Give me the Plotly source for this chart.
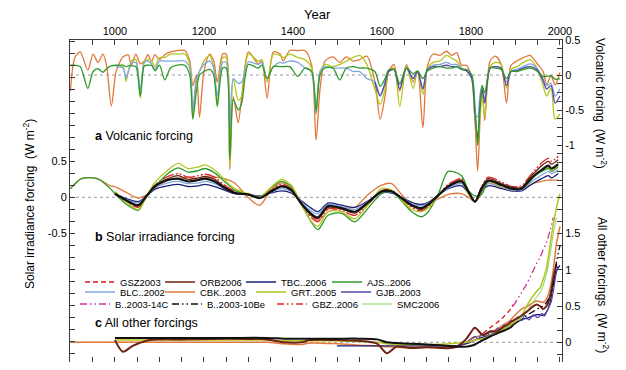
import plotly.graph_objects as go

# ---------------- axis tick labels ----------------
X_MAJOR = [1000, 1200, 1400, 1600, 1800, 2000]
X_MINOR = [900, 950, 1050, 1100, 1150, 1250, 1300, 1350, 1450, 1500, 1550,
           1650, 1700, 1750, 1850, 1900, 1950]
SOLAR_TICKS = [0.5, 0.0, -0.5]
SOLAR_TICK_TEXT = ["0.5", "0", "-0.5"]
VOLC_TICKS = [0.5, 0.0, -0.5, -1.0]
VOLC_TICK_TEXT = ["0.5", "0", "-0.5", "-1"]
OTHER_TICKS = [0.0, 0.5, 1.0, 1.5]
OTHER_TICK_TEXT = ["0", "0.5", "1", "1.5"]

# ---------------- (a) volcanic forcing ----------------
VOLC_YEARS = [900, 910, 922, 939, 951, 962, 973, 981, 992, 1003,
              1018, 1025, 1030, 1037, 1047, 1057, 1066, 1074, 1082, 1090,
              1100, 1112, 1125, 1140, 1157, 1168, 1175, 1183, 1190, 1200,
              1213, 1222, 1230, 1242, 1250, 1258, 1266, 1277, 1285, 1300,
              1322, 1330, 1342, 1356, 1371, 1378, 1393, 1411, 1427, 1442,
              1452, 1461, 1472, 1490, 1505, 1520, 1535, 1550, 1566, 1584,
              1596, 1607, 1615, 1627, 1640, 1655, 1670, 1680, 1692, 1702,
              1715, 1730, 1745, 1757, 1768, 1779, 1790, 1802, 1809, 1815,
              1820, 1825, 1831, 1843, 1855, 1868, 1880, 1890, 1903, 1918,
              1933, 1948, 1962, 1970, 1980, 1989, 2000]
VOLC_CBK = [-0.23, 0.25, 0.33, 0.07, 0.30, 0.18, 0.30, 0.14, -0.44, 0.06,
            0.26, 0.28, 0.29, 0.14, 0.30, 0.16, 0.20, 0.29, 0.19, 0.29,
            0.22, 0.29, 0.33, 0.35, 0.35, 0.20, -0.15, 0.00, -0.60, 0.05,
            0.30, 0.20, -0.10, 0.30, 0.30, -1.35, -0.31, -0.68, -0.30, 0.33,
            0.16, 0.20, -0.33, 0.33, 0.30, 0.20, 0.35, 0.35, 0.35, 0.14,
            -0.93, -0.19, 0.20, 0.26, 0.18, 0.26, 0.20, 0.22, 0.27, -0.09,
            -0.63, -0.30, 0.05, 0.15, -0.23, 0.15, -0.10, 0.05, -0.75, 0.12,
            0.30, 0.28, 0.34, 0.28, 0.32, 0.14, 0.14, -0.06, -0.65, -1.37,
            -0.70, -0.15, -0.65, 0.20, 0.27, 0.15, -0.40, 0.14, 0.20, 0.25,
            0.28, 0.17, 0.05, -0.14, -0.01, -0.14, 0.04]
VOLC_GRT = [None, None, None, None, None, None, None, None, None, 0.13,
            0.12, -0.09, 0.05, 0.20, 0.22, -0.33, 0.20, 0.22, 0.20, 0.12,
            0.25, 0.25, 0.30, 0.30, 0.30, 0.15, -0.60, -0.10, 0.05, 0.20,
            0.28, 0.10, -0.40, 0.25, 0.25, -1.30, -0.05, -0.36, -0.30, 0.30,
            0.20, 0.22, -0.10, 0.30, 0.28, 0.25, 0.30, 0.25, 0.22, 0.10,
            -0.56, 0.05, 0.15, 0.12, 0.15, 0.20, 0.25, 0.28, 0.15, -0.20,
            -0.42, -0.20, 0.05, 0.10, -0.45, 0.13, -0.19, 0.05, -0.28, 0.10,
            0.18, 0.20, 0.28, 0.24, 0.20, 0.10, 0.06, -0.05, -0.60, -1.00,
            -0.60, -0.25, -0.59, 0.12, 0.18, 0.15, -0.19, 0.08, 0.12, 0.18,
            0.22, 0.10, -0.15, -0.30, -0.19, -0.63, -0.56]
VOLC_BLC = [None, None, None, None, None, None, None, None, None, 0.12,
            0.10, -0.05, 0.05, 0.17, 0.18, -0.22, 0.18, 0.20, 0.16, 0.08,
            0.20, 0.20, 0.20, 0.20, 0.20, 0.10, -0.50, -0.05, 0.05, 0.15,
            0.20, 0.10, -0.30, 0.18, 0.18, -0.80, -0.05, -0.12, -0.10, 0.19,
            0.15, 0.18, -0.05, 0.12, 0.18, 0.17, 0.20, 0.18, 0.10, 0.05,
            -0.55, 0.05, 0.12, 0.10, 0.10, 0.10, 0.05, 0.05, -0.05, -0.10,
            -0.28, -0.10, 0.05, 0.08, -0.14, 0.10, -0.05, 0.05, -0.18, 0.08,
            0.14, 0.15, 0.18, 0.15, 0.15, 0.10, 0.06, -0.05, -0.55, -0.60,
            -0.30, -0.15, -0.35, 0.10, 0.12, 0.10, -0.10, 0.05, 0.08, 0.12,
            0.16, 0.10, -0.05, -0.15, -0.12, -0.30, -0.20]
VOLC_AJS = [0.14, 0.14, 0.12, -0.19, 0.05, 0.09, 0.04, 0.09, 0.13, 0.14,
            0.14, 0.12, 0.13, 0.13, 0.12, -0.30, 0.13, 0.14, 0.14, 0.06,
            0.14, -0.07, 0.10, 0.14, 0.14, 0.00, -0.63, -0.23, 0.00, 0.05,
            0.08, 0.00, -0.45, 0.10, 0.10, -1.20, -0.35, -0.50, -0.40, 0.15,
            0.10, 0.14, -0.05, 0.12, 0.12, 0.12, 0.12, -0.02, 0.10, 0.05,
            -0.51, 0.00, 0.10, 0.10, -0.07, 0.10, 0.12, 0.10, 0.10, 0.05,
            -0.16, -0.05, 0.07, 0.08, -0.12, 0.10, 0.02, 0.06, -0.05, 0.06,
            0.10, 0.12, 0.10, 0.10, 0.12, 0.08, 0.08, 0.00, -0.45, -1.00,
            -0.50, -0.15, -0.25, 0.10, 0.10, 0.08, -0.05, 0.05, 0.05, 0.08,
            0.10, 0.06, -0.02, -0.02, -0.01, -0.06, -0.05]
VOLC_GJB = [None] * 59 + [
            -0.10,
            -0.30, -0.12, 0.05, 0.08, -0.20, 0.10, -0.05, 0.05, -0.20, 0.08,
            0.12, 0.12, 0.14, 0.12, 0.12, 0.08, 0.06, -0.05, -0.55, -0.90,
            -0.45, -0.20, -0.40, 0.10, 0.12, 0.10, -0.15, 0.05, 0.06, 0.10,
            0.12, 0.08, -0.08, -0.20, -0.15, -0.40, -0.30]

# ---------------- (b) solar irradiance forcing ----------------
SOLAR_YEARS = [900, 925, 960, 990, 1000, 1022, 1052, 1070, 1089, 1119,
               1142, 1164, 1187, 1202, 1224, 1246, 1269, 1299, 1325, 1351,
               1374, 1396, 1419, 1441, 1456, 1479, 1509, 1539, 1569, 1599,
               1622, 1644, 1667, 1689, 1704, 1727, 1749, 1779, 1794, 1809,
               1824, 1839, 1869, 1891, 1914, 1929, 1944, 1959, 1974, 1981,
               1996]
SOLAR_B10BE = [None, None, None, None, 0.05, -0.03, -0.11, 0.01, 0.15, 0.24,
               0.26, 0.22, 0.24, 0.26, 0.22, 0.13, 0.06, 0.04, -0.01, 0.08,
               0.15, 0.10, -0.09, -0.23, -0.28, -0.12, -0.15, -0.20, -0.07, 0.08,
               0.08, -0.01, -0.11, -0.15, -0.10, 0.03, 0.15, 0.22, 0.08, -0.06,
               0.12, 0.23, 0.17, 0.12, 0.12, 0.22, 0.31, 0.38, 0.44, 0.40,
               0.46]
SOLAR_GRT = [None, None, None, None, 0.08, -0.05, -0.17, 0.00, 0.20, 0.38,
             0.47, 0.40, 0.42, 0.45, 0.38, 0.25, 0.12, 0.05, 0.00, 0.14,
             0.25, 0.17, -0.10, -0.33, -0.40, -0.20, -0.20, -0.30, -0.10, 0.12,
             0.10, -0.03, -0.17, -0.20, -0.15, 0.02, 0.15, 0.22, 0.05, -0.06,
             0.10, 0.22, 0.15, 0.12, 0.12, 0.22, 0.30, 0.38, 0.42, 0.38,
             0.44]
SOLAR_AJS = [0.12, 0.26, 0.26, 0.12, 0.05, -0.08, -0.18, 0.00, 0.14, 0.33,
             0.41, 0.35, 0.37, 0.40, 0.34, 0.22, 0.10, 0.04, 0.00, 0.13,
             0.22, 0.15, -0.10, -0.34, -0.45, -0.25, -0.22, -0.34, -0.15, 0.05,
             0.08, -0.05, -0.20, -0.27, -0.20, 0.05, 0.36, 0.30, 0.10, 0.02,
             0.04, 0.23, 0.18, 0.12, 0.12, 0.20, 0.30, 0.36, 0.40, 0.36,
             0.42]
SOLAR_GBZ = [None, None, None, None, 0.07, -0.04, -0.14, 0.00, 0.17, 0.29,
             0.33, 0.28, 0.30, 0.32, 0.28, 0.17, 0.08, 0.04, 0.00, 0.10,
             0.18, 0.12, -0.10, -0.28, -0.34, -0.16, -0.18, -0.25, -0.10, 0.09,
             0.10, -0.02, -0.14, -0.19, -0.13, 0.03, 0.18, 0.26, 0.10, -0.06,
             0.15, 0.28, 0.21, 0.15, 0.16, 0.27, 0.38, 0.48, 0.54, 0.50,
             0.57]
SOLAR_ORB = [None, None, None, None, 0.06, -0.03, -0.12, 0.00, 0.16, 0.26,
             0.30, 0.25, 0.27, 0.29, 0.25, 0.15, 0.07, 0.04, 0.00, 0.09,
             0.16, 0.11, -0.09, -0.25, -0.30, -0.14, -0.16, -0.22, -0.08, 0.08,
             0.09, -0.01, -0.12, -0.17, -0.11, 0.03, 0.16, 0.24, 0.09, -0.06,
             0.14, 0.26, 0.19, 0.14, 0.14, 0.25, 0.35, 0.44, 0.50, 0.46,
             0.52]
SOLAR_BLC = [None, None, None, None, 0.05, -0.02, -0.08, 0.01, 0.13, 0.20,
             0.22, 0.19, 0.20, 0.22, 0.19, 0.12, 0.06, 0.04, 0.01, 0.07,
             0.12, 0.08, -0.07, -0.19, -0.23, -0.10, -0.13, -0.17, -0.06, 0.07,
             0.07, 0.00, -0.09, -0.12, -0.08, 0.03, 0.13, 0.19, 0.07, -0.06,
             0.10, 0.19, 0.14, 0.10, 0.10, 0.18, 0.25, 0.31, 0.36, 0.33,
             0.38]
SOLAR_TBC = [None, None, None, None, 0.05, -0.01, -0.06, 0.01, 0.11, 0.16,
             0.18, 0.15, 0.16, 0.18, 0.15, 0.10, 0.05, 0.04, 0.02, 0.06,
             0.09, 0.06, -0.05, -0.15, -0.20, -0.08, -0.11, -0.14, -0.05, 0.06,
             0.06, 0.00, -0.07, -0.10, -0.07, 0.03, 0.12, 0.16, 0.06, -0.06,
             0.09, 0.16, 0.12, 0.09, 0.09, 0.15, 0.21, 0.26, 0.30, 0.27,
             0.33]
SOLAR_CBK = [0.12, 0.26, 0.26, 0.16, 0.15, 0.08, -0.01, 0.03, 0.12, 0.24,
             0.26, 0.28, 0.25, 0.27, 0.28, 0.26, 0.20, 0.00, -0.11, 0.10,
             0.20, 0.12, -0.08, -0.25, -0.33, -0.20, -0.15, -0.14, 0.04, 0.17,
             0.19, 0.04, -0.10, -0.10, -0.09, -0.02, 0.04, 0.05, 0.00, -0.06,
             0.05, 0.20, 0.13, 0.09, 0.10, 0.16, 0.20, 0.22, 0.24, 0.24,
             0.24]

# ---------------- (c) all other forcings ----------------
OTHER_YEARS = [900, 1000, 1018, 1040, 1079, 1150, 1250, 1341, 1381, 1420,
               1438, 1499, 1550, 1589, 1611, 1633, 1663, 1700, 1753, 1768,
               1790, 1798, 1809, 1827, 1843, 1858, 1870, 1888, 1895, 1917,
               1925, 1947, 1955, 1962, 1970, 1978, 1985, 1992, 2000]
OTHER_CBK = [0.00, 0.00, 0.00, 0.00, 0.00, 0.00, 0.00, 0.00, -0.02, -0.03,
             -0.01, -0.02, -0.04, -0.05, -0.06, -0.07, -0.07, -0.07, -0.06, -0.05,
             0.00, 0.03, 0.07, 0.10, 0.14, 0.18, 0.23, 0.30, 0.35, 0.47,
             0.49, 0.57, 0.56, 0.55, 0.60, 0.75, 1.00, 1.35, 1.60]
OTHER_ORB = [None, 0.03, -0.13, -0.05, 0.03, 0.04, 0.05, 0.04, 0.00, 0.00,
             0.03, 0.03, 0.02, -0.02, -0.15, -0.06, -0.08, -0.07, -0.08, -0.06,
             0.05, 0.12, 0.20, 0.10, 0.15, 0.15, 0.20, 0.27, 0.30, 0.38,
             0.42, 0.52, 0.50, 0.46, 0.50, 0.64, 0.88, 1.08, None]
OTHER_B10BE = [None, 0.06, 0.06, 0.06, 0.06, 0.06, 0.06, 0.06, 0.05, 0.05,
               0.05, 0.05, 0.05, 0.04, 0.00, -0.01, -0.02, -0.03, -0.05, -0.06,
               -0.06, -0.05, -0.03, 0.03, 0.08, 0.12, 0.15, 0.20, 0.24, None,
               None, None, None, None, None, None, None, None, None]
OTHER_B10BE_LATE = [None] * 28 + [0.24, 0.33, 0.37, 0.45, 0.48, 0.50, 0.55,
                                  0.65, 0.80, 1.10, 1.33]
OTHER_B14C = [None] * 28 + [0.50, 0.72, 0.80, 1.08, 1.17, 1.27, 1.38,
                            1.55, 1.72, None, None]
OTHER_GSZ = [None] * 23 + [0.12, 0.20, 0.27, 0.33, 0.45, 0.52] + [None] * 10
OTHER_GRT = [None, 0.03, 0.03, 0.03, 0.03, 0.03, 0.03, 0.03, 0.02, 0.02,
             0.02, 0.02, 0.01, 0.00, -0.02, -0.03, -0.03, -0.03, -0.02, -0.01,
             0.00, 0.01, 0.03, 0.05, 0.09, 0.13, 0.17, 0.24, 0.26, 0.40,
             0.50, 0.70, 0.75, 0.86, 1.03, 1.35, 1.63, 1.85, 2.05]
OTHER_SMC = [None] * 23 + [0.04, 0.08, 0.12, 0.15, 0.21, 0.23, 0.36,
                           0.42, 0.62, 0.68, 0.78, 0.95, 1.22, 1.50, 1.72, None]
OTHER_TBC = [None] * 11 + [-0.05, -0.05, -0.05, -0.05, -0.05, -0.05, -0.05, -0.05, -0.05,
                           -0.02, 0.00, 0.03, 0.07, 0.10, 0.14, 0.17, 0.24, 0.26, 0.32,
                           0.33, 0.38, 0.38, 0.37, 0.42, 0.55, 0.80, 0.98, 1.06]
GJB_OTHER_YEARS = [1780, 1790, 1800, 1810, 1815, 1825, 1835, 1845, 1850, 1860,
                   1865, 1875, 1880, 1890, 1900, 1905, 1915, 1920, 1930, 1940,
                   1950, 1960, 1965, 1970, 1980, 1985, 1990, 1995]
OTHER_GJB = [-0.03, 0.00, 0.05, 0.08, 0.04, 0.12, 0.08, 0.16, 0.10, 0.20,
             0.14, 0.24, 0.20, 0.30, 0.26, 0.35, 0.30, 0.37, 0.31, 0.38,
             0.34, 0.40, 0.36, 0.42, 0.55, 0.70, 0.90, 1.05]

# ---------------- styling ----------------
COL = {
    "GSZ": "#d7191c", "ORB": "#6e2214", "TBC": "#1c1c78", "AJS": "#2f9a2a",
    "BLC": "#7fa7df", "CBK": "#e0783a", "GRT": "#b3c61c", "GJB": "#5747a8",
    "B14C": "#cc3399", "B10BE": "#111111", "GBZ": "#e2262a", "SMC": "#7fd35a",
}
NAMES = {
    "GSZ": "GSZ2003", "ORB": "ORB2006", "TBC": "TBC..2006", "AJS": "AJS..2006",
    "BLC": "BLC..2002", "CBK": "CBK..2003", "GRT": "GRT..2005", "GJB": "GJB..2003",
    "B14C": "B..2003-14C", "B10BE": "B..2003-10Be", "GBZ": "GBZ..2006", "SMC": "SMC2006",
}
DASHDOTDOT = "7px,3px,1.5px,3px,1.5px,3px"

FONT = "Liberation Sans, Arial, Helvetica, sans-serif"
OFF = 8                      # page body margin of the html page
L, T = 62, 32
PW, PH = 492, 322
W, H = 610, 354
R, B = W - L - PW, H - T - PH

fig = go.Figure()


def add(x, y, axis, key, width=1.3, dash="solid", legend=None):
    fig.add_trace(go.Scatter(
        x=x, y=y, yaxis=axis, mode="lines",
        line=dict(color=COL[key], width=width, dash=dash, shape="spline", smoothing=0.8),
        name=NAMES[key], legendgroup=key,
        showlegend=legend is not None, legend=legend if legend else "legend",
        connectgaps=False, hoverinfo="skip",
    ))


# legend slot for each key
LEG = {"GSZ": "legend", "ORB": "legend2", "TBC": "legend3", "AJS": "legend4",
       "BLC": "legend5", "CBK": "legend6", "GRT": "legend7", "GJB": "legend8",
       "B14C": "legend9", "B10BE": "legend10", "GBZ": "legend11", "SMC": "legend12"}

# (a) volcanic
add(VOLC_YEARS, VOLC_CBK, "y2", "CBK", legend=LEG["CBK"])
add(VOLC_YEARS, VOLC_GRT, "y2", "GRT", legend=LEG["GRT"])
add(VOLC_YEARS, VOLC_BLC, "y2", "BLC", legend=LEG["BLC"])
add(VOLC_YEARS, VOLC_GJB, "y2", "GJB", legend=LEG["GJB"])
add(VOLC_YEARS, VOLC_AJS, "y2", "AJS", legend=LEG["AJS"])

# (b) solar
add(SOLAR_YEARS, SOLAR_CBK, "y", "CBK")
add(SOLAR_YEARS, SOLAR_TBC, "y", "TBC", legend=LEG["TBC"])
add(SOLAR_YEARS, SOLAR_BLC, "y", "BLC")
add(SOLAR_YEARS, SOLAR_GBZ, "y", "GBZ", dash="12px,2px,2px,2px,2px,2px")
add(SOLAR_YEARS, SOLAR_ORB, "y", "ORB", legend=LEG["ORB"])
add(SOLAR_YEARS, SOLAR_AJS, "y", "AJS")
add(SOLAR_YEARS, SOLAR_GRT, "y", "GRT")
add(SOLAR_YEARS, SOLAR_B10BE, "y", "B10BE", width=2.2)

# (c) all other forcings
add(OTHER_YEARS, OTHER_CBK, "y3", "CBK", width=1.5)
add(OTHER_YEARS, OTHER_TBC, "y3", "TBC")
add(GJB_OTHER_YEARS, OTHER_GJB, "y3", "GJB", width=1.2)
add(OTHER_YEARS, OTHER_SMC, "y3", "SMC", width=1, legend=LEG["SMC"])
add(OTHER_YEARS, OTHER_GRT, "y3", "GRT", width=1.5)
add(OTHER_YEARS, OTHER_ORB, "y3", "ORB", width=2)
add(OTHER_YEARS, OTHER_B10BE, "y3", "B10BE", width=2)
add(OTHER_YEARS, OTHER_B10BE_LATE, "y3", "B10BE", dash=DASHDOTDOT, legend=LEG["B10BE"])
add(OTHER_YEARS, OTHER_GSZ, "y3", "GSZ", dash="5px,3px", legend=LEG["GSZ"])
add(OTHER_YEARS, OTHER_B14C, "y3", "B14C", dash=DASHDOTDOT, legend=LEG["B14C"])
# GBZ key entry (its curve is the solar red line); no points of its own
fig.add_trace(go.Scatter(
    x=SOLAR_YEARS[:4], y=SOLAR_GBZ[:4], yaxis="y", mode="lines",
    line=dict(color=COL["GBZ"], width=1.5, dash=DASHDOTDOT),
    name=NAMES["GBZ"], legendgroup="GBZ", showlegend=True, legend=LEG["GBZ"],
    hoverinfo="skip"))

# ---------------- axes ----------------
AX_COL = "#3a3a3a"
tick_font = dict(family=FONT, size=11, color="black")


def minor(step, lo, hi, skip):
    vals = []
    k = round(lo / step)
    while k * step <= hi + 1e-9:
        v = round(k * step, 6)
        if all(abs(v - s) > 1e-6 for s in skip):
            vals.append(v)
        k += 1
    return dict(tickmode="array", tickvals=vals, ticks="inside", ticklen=5,
                tickcolor=AX_COL, tickwidth=1, showgrid=False)


common_y = dict(ticks="inside", ticklen=5, tickcolor=AX_COL, tickmode="array",
                showline=True, linecolor=AX_COL, linewidth=1, automargin=False,
                showgrid=False, zeroline=False, tickfont=tick_font)

fig.update_layout(
    width=W, height=H,
    margin=dict(l=L, r=R, t=T, b=B, pad=0, autoexpand=False),
    template="none",
    paper_bgcolor="white", plot_bgcolor="white",
    font=dict(family=FONT, size=11, color="black"),
    xaxis=dict(
        range=[899, 2004.6], side="top",
        tickmode="array", tickvals=X_MAJOR, ticktext=[str(v) for v in X_MAJOR],
        minor=dict(tickmode="array", tickvals=X_MINOR, ticks="inside", ticklen=5,
                   tickcolor=AX_COL, tickwidth=1, showgrid=False),
        ticks="inside", ticklen=5, tickcolor=AX_COL, tickwidth=1,
        showline=True, linecolor=AX_COL, linewidth=1, mirror="ticks",
        showgrid=False, zeroline=False, tickfont=tick_font, automargin=False,
    ),
    yaxis=dict(range=[-2.2875, 2.185], side="left",
               tickvals=SOLAR_TICKS, ticktext=SOLAR_TICK_TEXT,
               minor=minor(1 / 6, -2.2, 2.18, SOLAR_TICKS), **common_y),
    yaxis2=dict(range=[-4.1, 0.5005], side="right", overlaying="y", anchor="x",
                tickvals=VOLC_TICKS, ticktext=VOLC_TICK_TEXT,
                minor=minor(0.125, -1.5, 0.5, VOLC_TICKS), **common_y),
    yaxis3=dict(range=[-0.272, 4.17], side="right", overlaying="y", anchor="x",
                tickvals=OTHER_TICKS, ticktext=OTHER_TICK_TEXT,
                minor=minor(1 / 6, -0.2, 2.2, OTHER_TICKS), **common_y),
)

# dotted zero lines
for ax in ["y", "y2", "y3"]:
    fig.add_shape(type="line", xref="paper", x0=0, x1=1, yref=ax, y0=0, y1=0,
                  line=dict(color="#9a9a9a", width=1, dash="dot"), layer="below")


def px_x(p):
    """page pixel x -> paper fraction"""
    return (p - OFF - L) / PW


def px_y(p):
    """page pixel y -> paper fraction"""
    return (T + PH - (p - OFF)) / PH


ann = [
    dict(text="Year", x=px_x(317), y=px_y(14.5), size=13, angle=0, xa="center"),
    dict(text="Solar irradiance forcing  (W m<sup>-2</sup>)", x=px_x(29), y=px_y(204),
         size=12, angle=-90, xa="center"),
    dict(text="Volcanic forcing  (W m<sup>-2</sup>)", x=px_x(601), y=px_y(103),
         size=12, angle=90, xa="center"),
    dict(text="All other forcings  (W m<sup>-2</sup>)", x=px_x(603), y=px_y(285),
         size=12, angle=90, xa="center"),
    dict(text="<b>a</b> Volcanic forcing", x=px_x(93), y=px_y(136), size=12.5, angle=0, xa="left"),
    dict(text="<b>b</b> Solar irradiance forcing", x=px_x(93), y=px_y(237), size=12.5, angle=0, xa="left"),
    dict(text="<b>c</b> All other forcings", x=px_x(93), y=px_y(323), size=12.5, angle=0, xa="left"),
]
for a in ann:
    fig.add_annotation(text=a["text"], x=a["x"], y=a["y"], xref="paper", yref="paper",
                       xanchor=a["xa"], yanchor="middle", textangle=a["angle"],
                       showarrow=False, font=dict(family=FONT, size=a["size"], color="black"))

# legends: one per entry, positioned like the reference key
LEGEND_TEXT_X = {
    "GSZ": 121, "ORB": 201, "TBC": 282, "AJS": 368,
    "BLC": 121, "CBK": 201, "GRT": 292, "GJB": 377,
    "B14C": 116, "B10BE": 208, "GBZ": 313, "SMC": 398,
}
LEGEND_ROW_Y = {
    "GSZ": 282, "ORB": 282, "TBC": 282, "AJS": 282,
    "BLC": 292, "CBK": 292, "GRT": 292, "GJB": 292,
    "B14C": 304, "B10BE": 304, "GBZ": 304, "SMC": 304,
}
for key, lg in LEG.items():
    fig.update_layout(**{lg: dict(
        x=px_x(LEGEND_TEXT_X[key] - 41), y=px_y(LEGEND_ROW_Y[key]),
        xanchor="left", yanchor="middle", orientation="h",
        bgcolor="rgba(0,0,0,0)", borderwidth=0,
        font=dict(family=FONT, size=9.5, color="black"),
        itemwidth=30, tracegroupgap=0,
    )})

fig.write_html("out.html")
